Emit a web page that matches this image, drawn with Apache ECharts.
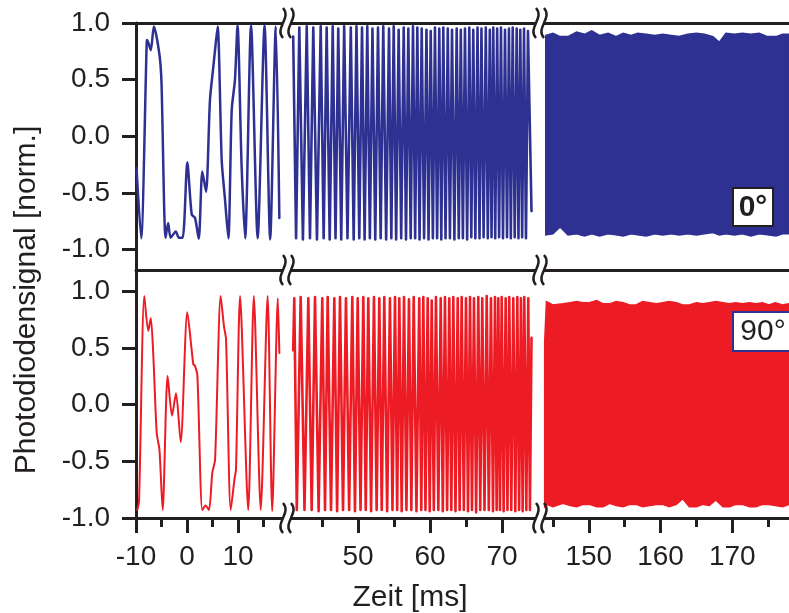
<!DOCTYPE html>
<html>
<head>
<meta charset="utf-8">
<script src="https://cdn.jsdelivr.net/npm/echarts@6/dist/echarts.min.js"></script>
<style>
  html, body { margin: 0; padding: 0; background: #ffffff; }
  #chart { width: 789px; height: 613px; }
</style>
</head>
<body>
<div id="chart"></div>
<script>
// ---------- signal data (time in ms, signal normalised) ----------
// 0° polarisation, first window (-10 … 18 ms)
const seg1BlueT = [-9.9, -9.0, -7.9, -7.8, -7.1, -6.5, -5.4, -5.0, -4.2, -3.7, -3.2, -2.2, -1.6, -0.85, 0.06, 0.92, 1.57, 2.3, 3.0, 3.73, 4.5, 5.16, 5.4, 6.0, 6.8, 7.45, 8.1, 8.76, 9.4, 9.9, 10.7, 11.4, 12.55, 13.85, 15.2, 16.3, 17.4, 18.1];
const seg1BlueV = [-0.28, -0.90, 0.83, 0.85, 0.76, 0.97, 0.72, 0.47, -0.895, -0.765, -0.895, -0.84, -0.895, -0.895, -0.23, -0.69, -0.72, -0.905, -0.31, -0.49, 0.32, 0.615, 0.72, 0.97, -0.21, -0.56, -0.90, 0.23, 0.50, 0.98, -0.26, -0.90, 0.98, -0.90, 0.98, -0.91, 0.97, -0.72];

// 90° polarisation, first window
const seg1RedT = [-9.75, -9.4, -8.37, -7.6, -7.1, -6.6, -5.94, -5.4, -4.77, -3.8, -2.94, -2.16, -1.24, 0.06, 1.24, 1.5, 2.03, 3.0, 3.65, 4.3, 4.96, 5.5, 6.6, 7.25, 7.65, 8.57, 9.3, 9.6, 10.4, 12.0, 13.1, 14.45, 15.8, 16.7, 17.8, 18.1];
const seg1RedV = [-0.93, -0.85, 0.96, 0.65, 0.765, 0.43, -0.25, -0.40, -0.93, 0.256, -0.097, 0.10, -0.33, 0.815, 0.353, 0.35, 0.26, -0.93, -0.89, -0.93, -0.60, -0.485, 0.96, 0.69, 0.58, -0.93, -0.66, -0.57, 0.96, -0.93, 0.96, -0.93, 0.96, -0.94, 0.94, 0.456];

// 0°, second window (41 … 74 ms): successive extrema
const seg2BlueT = [41.0, 41.4, 41.85, 42.35, 42.88, 43.33, 43.79, 44.3, 44.82, 45.23,
  45.65, 46.07, 46.49, 46.88, 47.26, 47.67, 48.08, 48.54, 49.0, 49.4,
  49.79, 50.18, 50.56, 50.92, 51.29, 51.65, 52.01, 52.4, 52.78, 53.15,
  53.51, 53.91, 54.31, 54.63, 54.96, 55.3, 55.65, 56.0, 56.35, 56.67,
  56.99, 57.32, 57.64, 57.94, 58.24, 58.55, 58.85, 59.18, 59.51, 59.8,
  60.1, 60.4, 60.69, 60.99, 61.29, 61.57, 61.85, 62.16, 62.47, 62.77,
  63.06, 63.39, 63.71, 64.0, 64.28, 64.57, 64.86, 65.16, 65.46, 65.74,
  66.01, 66.3, 66.6, 66.88, 67.15, 67.45, 67.75, 68.03, 68.31, 68.55,
  68.79, 69.06, 69.33, 69.6, 69.86, 70.14, 70.42, 70.7, 70.97, 71.23,
  71.49, 71.77, 72.04, 72.29, 72.54, 72.8, 73.06, 73.33, 73.61, 74.1];
const seg2BlueV = [0.88, -0.90, 0.96, -0.91, 0.97, -0.90, 0.96, -0.91, 0.97, -0.90,
  0.96, -0.91, 0.97, -0.90, 0.95, -0.91, 0.97, -0.90, 0.96, -0.91,
  0.97, -0.90, 0.96, -0.91, 0.97, -0.90, 0.95, -0.91, 0.96, -0.90,
  0.97, -0.91, 0.95, -0.90, 0.97, -0.91, 0.94, -0.90, 0.96, -0.91,
  0.95, -0.90, 0.97, -0.90, 0.96, -0.91, 0.95, -0.90, 0.94, -0.91,
  0.93, -0.90, 0.96, -0.90, 0.95, -0.91, 0.96, -0.90, 0.95, -0.90,
  0.94, -0.91, 0.95, -0.90, 0.94, -0.90, 0.95, -0.91, 0.96, -0.89,
  0.94, -0.90, 0.96, -0.90, 0.95, -0.89, 0.96, -0.90, 0.94, -0.89,
  0.96, -0.90, 0.95, -0.89, 0.96, -0.90, 0.94, -0.89, 0.95, -0.90,
  0.96, -0.89, 0.95, -0.90, 0.94, -0.89, 0.95, -0.90, 0.93, -0.66];

// 90°, second window
const seg2RedT = [41.0, 41.15, 41.5, 42.04, 42.57, 43.1, 43.57, 44.03, 44.53, 45.04,
  45.42, 45.79, 46.25, 46.71, 47.1, 47.5, 47.92, 48.33, 48.77, 49.21,
  49.58, 49.96, 50.35, 50.74, 51.08, 51.43, 51.82, 52.22, 52.59, 52.96,
  53.3, 53.65, 54.05, 54.44, 54.79, 55.14, 55.44, 55.74, 56.07, 56.39,
  56.73, 57.08, 57.41, 57.74, 58.12, 58.51, 58.79, 59.07, 59.37, 59.68,
  59.96, 60.24, 60.53, 60.83, 61.16, 61.49, 61.78, 62.08, 62.38, 62.68,
  62.96, 63.24, 63.54, 63.85, 64.12, 64.4, 64.7, 65.0, 65.28, 65.56,
  65.83, 66.11, 66.41, 66.71, 66.98, 67.26, 67.57, 67.88, 68.17, 68.47,
  68.75, 69.03, 69.26, 69.49, 69.72, 69.96, 70.23, 70.51, 70.76, 71.01,
  71.29, 71.57, 71.85, 72.13, 72.38, 72.64, 72.87, 73.1, 73.38, 73.65,
  73.88, 74.1];
const seg2RedV = [0.48, 0.94, -0.93, 0.95, -0.93, 0.94, -0.93, 0.95, -0.94, 0.94,
  -0.93, 0.95, -0.93, 0.94, -0.94, 0.95, -0.93, 0.94, -0.93, 0.95,
  -0.94, 0.94, -0.93, 0.95, -0.93, 0.94, -0.94, 0.95, -0.93, 0.94,
  -0.93, 0.95, -0.94, 0.94, -0.93, 0.95, -0.93, 0.94, -0.94, 0.95,
  -0.93, 0.93, -0.93, 0.95, -0.94, 0.94, -0.93, 0.95, -0.93, 0.94,
  -0.94, 0.92, -0.93, 0.95, -0.93, 0.94, -0.94, 0.95, -0.93, 0.94,
  -0.93, 0.95, -0.94, 0.94, -0.93, 0.95, -0.93, 0.94, -0.94, 0.95,
  -0.93, 0.94, -0.95, 0.95, -0.93, 0.94, -0.93, 0.96, -0.93, 0.94,
  -0.94, 0.95, -0.93, 0.94, -0.93, 0.95, -0.94, 0.94, -0.93, 0.95,
  -0.93, 0.94, -0.94, 0.95, -0.93, 0.94, -0.94, 0.95, -0.93, 0.94,
  -0.93, 0.59];

// third window (144 … 178 ms): oscillation too fast to resolve, upper / lower envelope
const seg3BlueT = [144.0, 145.0, 146.0, 147.1, 148.3, 149.4, 150.4, 151.5, 152.7, 153.8, 154.8, 155.9, 156.8, 158.0, 159.2, 160.3, 161.5, 162.6, 163.8, 165.0, 166.1, 167.3, 168.2, 169.1, 170.3, 171.4, 172.6, 173.75, 174.9, 176.1, 177.0, 177.9];
const seg3BlueHi = [0.89, 0.91, 0.88, 0.88, 0.92, 0.90, 0.93, 0.89, 0.91, 0.88, 0.91, 0.89, 0.91, 0.90, 0.89, 0.90, 0.89, 0.88, 0.90, 0.91, 0.90, 0.88, 0.83, 0.91, 0.90, 0.91, 0.90, 0.91, 0.88, 0.88, 0.90, 0.90];
const seg3BlueLo = [-0.87, -0.86, -0.80, -0.87, -0.86, -0.88, -0.86, -0.88, -0.86, -0.87, -0.88, -0.86, -0.87, -0.88, -0.86, -0.87, -0.86, -0.87, -0.86, -0.87, -0.86, -0.85, -0.87, -0.86, -0.87, -0.86, -0.88, -0.86, -0.87, -0.88, -0.86, -0.86];

const seg3RedT = [143.85, 144.1, 145.0, 146.4, 147.4, 148.3, 149.2, 150.1, 151.1, 152.0, 152.9, 153.8, 154.8, 155.7, 156.6, 157.5, 158.5, 159.4, 160.3, 161.2, 162.2, 163.1, 164.0, 165.0, 165.9, 166.8, 167.7, 168.7, 169.6, 170.5, 171.4, 172.4, 173.3, 174.2, 175.1, 176.0, 177.0, 177.9];
const seg3RedHi = [0.55, 0.91, 0.88, 0.89, 0.90, 0.91, 0.90, 0.90, 0.92, 0.89, 0.89, 0.91, 0.90, 0.88, 0.88, 0.91, 0.90, 0.89, 0.90, 0.91, 0.90, 0.88, 0.88, 0.90, 0.89, 0.90, 0.91, 0.90, 0.89, 0.90, 0.89, 0.90, 0.89, 0.90, 0.88, 0.90, 0.88, 0.89];
const seg3RedLo = [-0.90, -0.88, -0.90, -0.87, -0.89, -0.90, -0.88, -0.88, -0.90, -0.90, -0.87, -0.89, -0.90, -0.88, -0.88, -0.90, -0.89, -0.88, -0.88, -0.90, -0.88, -0.83, -0.90, -0.90, -0.88, -0.89, -0.84, -0.90, -0.90, -0.88, -0.88, -0.90, -0.90, -0.88, -0.88, -0.89, -0.90, -0.88];

// ---------- axes ----------
const xMajorTicks = [[-10, 0, 10], [50, 60, 70], [150, 160, 170]];
const xMinorTicks = [[-5, 5, 15], [45, 55, 65], [145, 155, 165, 175]];
const yTicks = [-1, -0.5, 0, 0.5, 1];
const xWindows = [[-10, 19.6], [40.14, 75.28], [143.2, 177.9]];
const yWindows = [[-1.18, 1.0], [-1.0, 1.18]];
const panelLabels = ['0°', '90°'];

// ---------- layout & style ----------
const INK = '#231f20';
const BLUE = '#2e3192';
const RED = '#ed1c24';
const FONT = '"Liberation Sans", Arial, Helvetica, sans-serif';
const segLeft = [136, 287, 540];
const segWidth = [151, 253, 250];
const panelTop = [23, 271];
const panelHeight = 247;
const breakX = [287, 540];
const breakY = [23, 270, 518];

const zip = (t, v) => t.map((x, i) => [x, v[i]]);

const grids = [], xAxes = [], yAxes = [];
for (let p = 0; p < 2; p++) {
  for (let s = 0; s < 3; s++) {
    grids.push({ left: segLeft[s], top: panelTop[p], width: segWidth[s], height: panelHeight });
  }
}
// main x axis of each grid (indices 0..5)
for (let p = 0; p < 2; p++) {
  for (let s = 0; s < 3; s++) {
    const g = p * 3 + s;
    const labelled = p === 1;
    xAxes.push({
      gridIndex: g, type: 'value', position: 'bottom',
      min: xWindows[s][0], max: xWindows[s][1],
      axisLine: { show: true, onZero: false, lineStyle: { color: INK, width: 3 } },
      axisTick: labelled
        ? { show: true, customValues: xMajorTicks[s], length: 15, lineStyle: { color: INK, width: 3 } }
        : { show: false },
      axisLabel: labelled
        ? { show: true, customValues: xMajorTicks[s], margin: 25, fontSize: 28, color: INK, fontFamily: FONT }
        : { show: false },
      splitLine: { show: false }
    });
    yAxes.push({
      gridIndex: g, type: 'value', show: s === 0,
      min: yWindows[p][0], max: yWindows[p][1],
      axisLine: { show: true, onZero: false, lineStyle: { color: INK, width: 3 } },
      axisTick: { show: true, customValues: yTicks, length: 14, lineStyle: { color: INK, width: 3 } },
      axisLabel: { show: true, customValues: yTicks, formatter: v => v.toFixed(1), margin: 26, fontSize: 28, color: INK, fontFamily: FONT },
      splitLine: { show: false }
    });
  }
}
// minor ticks on the lower time axis, frame line on top of the upper panel
for (let s = 0; s < 3; s++) {
  xAxes.push({
    gridIndex: 3 + s, type: 'value', position: 'bottom',
    min: xWindows[s][0], max: xWindows[s][1],
    axisLine: { show: false, onZero: false },
    axisTick: { show: true, customValues: xMinorTicks[s], length: 9, lineStyle: { color: INK, width: 3 } },
    axisLabel: { show: false }, splitLine: { show: false }
  });
  xAxes.push({
    gridIndex: s, type: 'value', position: 'top',
    min: xWindows[s][0], max: xWindows[s][1],
    axisLine: { show: true, onZero: false, lineStyle: { color: INK, width: 3 } },
    axisTick: { show: false }, axisLabel: { show: false }, splitLine: { show: false }
  });
}

function lineSeries(idx, data, color, width, smooth) {
  return {
    type: 'line', xAxisIndex: idx, yAxisIndex: idx, data: data,
    symbol: 'none', smooth: smooth, clip: true,
    lineStyle: { color: color, width: width, join: 'round', cap: 'round' }
  };
}

function bandSeries(idx, t, hi, lo, color) {
  return {
    type: 'custom', xAxisIndex: idx, yAxisIndex: idx,
    data: t.map((x, i) => [x, hi[i], lo[i]]),
    renderItem: function (params, api) {
      if (params.dataIndex !== 0) return null;
      const pts = [];
      for (let i = 0; i < t.length; i++) pts.push(api.coord([t[i], hi[i]]));
      for (let i = t.length - 1; i >= 0; i--) pts.push(api.coord([t[i], lo[i]]));
      return { type: 'polygon', shape: { points: pts }, style: { fill: color, stroke: color, lineWidth: 1.5 } };
    }
  };
}

const series = [
  lineSeries(0, zip(seg1BlueT, seg1BlueV), BLUE, 2.5, 0.25),
  lineSeries(1, zip(seg2BlueT, seg2BlueV), BLUE, 2.6, false),
  bandSeries(2, seg3BlueT, seg3BlueHi, seg3BlueLo, BLUE),
  lineSeries(3, zip(seg1RedT, seg1RedV), RED, 2.0, 0.25),
  lineSeries(4, zip(seg2RedT, seg2RedV), RED, 2.6, false),
  bandSeries(5, seg3RedT, seg3RedHi, seg3RedLo, RED)
];

// ---------- annotations ----------
const graphics = [];
// axis-break marks
breakX.forEach(bx => {
  breakY.forEach(by => {
    graphics.push({ type: 'rect', z: 100, shape: { x: bx - 4, y: by - 3, width: 8, height: 6 }, style: { fill: '#ffffff' } });
    [bx - 4, bx + 4].forEach(cx => {
      graphics.push({
        type: 'bezierCurve', z: 101,
        shape: { x1: cx, y1: by - 15, cpx1: cx + 9, cpy1: by - 5, cpx2: cx - 9, cpy2: by + 5, x2: cx, y2: by + 15 },
        style: { stroke: INK, lineWidth: 2.5, fill: null }
      });
    });
  });
});
// panel labels
graphics.push({ type: 'rect', z: 100, shape: { x: 733, y: 188, width: 40, height: 38 }, style: { fill: '#ffffff', stroke: INK, lineWidth: 2 } });
graphics.push({ type: 'text', z: 101, x: 753, y: 208, style: { text: panelLabels[0], font: 'bold 30px ' + FONT, fill: INK, align: 'center', verticalAlign: 'middle', textAlign: 'center', textVerticalAlign: 'middle' } });
graphics.push({ type: 'rect', z: 100, shape: { x: 733, y: 312, width: 62, height: 39 }, style: { fill: '#ffffff', stroke: BLUE, lineWidth: 2 } });
graphics.push({ type: 'text', z: 101, x: 763, y: 332, style: { text: panelLabels[1], font: '30px ' + FONT, fill: INK, align: 'center', verticalAlign: 'middle', textAlign: 'center', textVerticalAlign: 'middle' } });
// axis titles
graphics.push({ type: 'text', z: 101, x: 410, y: 598, style: { text: 'Zeit [ms]', font: '30px ' + FONT, fill: INK, align: 'center', verticalAlign: 'middle', textAlign: 'center', textVerticalAlign: 'middle' } });
graphics.push({ type: 'text', z: 101, x: 27, y: 300, rotation: Math.PI / 2, style: { text: 'Photodiodensignal [norm.]', font: '30px ' + FONT, fill: INK, align: 'center', verticalAlign: 'middle', textAlign: 'center', textVerticalAlign: 'middle' } });

const chart = echarts.init(document.getElementById('chart'), null, { renderer: 'canvas' });
chart.setOption({
  animation: false,
  backgroundColor: '#ffffff',
  grid: grids,
  xAxis: xAxes,
  yAxis: yAxes,
  series: series,
  graphic: { elements: graphics }
});
</script>
</body>
</html>
